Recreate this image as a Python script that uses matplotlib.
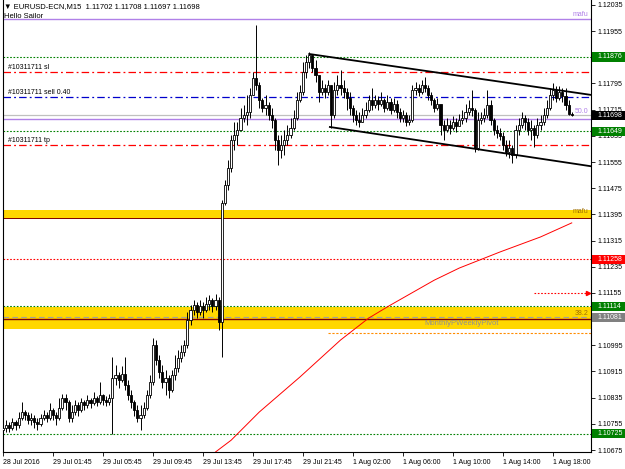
import matplotlib
matplotlib.use('Agg')
import matplotlib.pyplot as plt
import numpy as np
from matplotlib.transforms import blended_transform_factory
from matplotlib.patches import Rectangle

plt.rcParams['font.family'] = ['Liberation Sans', 'DejaVu Sans']

# EURUSD M15 candles, prices in points (1e-5)
first_open = 110736
close_pts = [
    110742, 110751, 110742, 110760, 110751, 110773, 110791, 110782, 110766, 110773,
    110760, 110754, 110773, 110782, 110773, 110797, 110782, 110773, 110803, 110834,
    110821, 110773, 110791, 110812, 110797, 110821, 110812, 110828, 110818, 110834,
    110821, 110843, 110828, 110821, 110834, 110895, 110904, 110889, 110907, 110873,
    110843, 110821, 110797, 110773, 110782, 110803, 110843, 110883,
    110996, 110950, 110913, 110883, 110895, 110858, 110904, 110925, 110956, 110974,
    110996, 111072, 111103, 111118, 111097, 111115, 111103, 111121, 111133, 111115,
    111133, 111066,
    111430, 111485, 111537, 111622, 111637, 111653, 111689, 111699, 111708, 111760,
    111812, 111790, 111744, 111720, 111729, 111699, 111683, 111622, 111592, 111607,
    111622, 111637, 111659, 111689, 111744, 111769, 111830, 111861, 111882, 111842,
    111821, 111769, 111781, 111769, 111790, 111699, 111775, 111790, 111781, 111769,
    111751, 111720, 111699, 111683, 111677, 111699, 111714, 111744, 111729, 111744,
    111732, 111744, 111720, 111738, 111714, 111732, 111708, 111689, 111699, 111677,
    111683, 111775, 111781, 111769, 111790, 111781, 111760, 111744, 111720, 111732,
    111668, 111653, 111668, 111659, 111677, 111665, 111683, 111689, 111708, 111720,
    111714, 111598, 111683, 111689, 111699, 111729, 111683, 111653, 111644, 111634,
    111607, 111585, 111598, 111576, 111653, 111668, 111689, 111677, 111653, 111659,
    111637, 111668, 111677, 111699, 111720, 111760, 111775, 111751, 111769, 111757,
    111729, 111702, 111698]
high_pts = [
    110751, 110766, 110760, 110773, 110766, 110791, 110821, 110797, 110791, 110788,
    110782, 110773, 110785, 110797, 110791, 110818, 110803, 110791, 110834, 110846,
    110846, 110828, 110812, 110828, 110821, 110834, 110828, 110843, 110834, 110852,
    110840, 110883, 110846, 110840, 110846, 110959, 110935, 110913, 110932, 110959,
    110889, 110858, 110828, 110812, 110812, 110821, 110858, 110904,
    111017, 111011, 110965, 110935, 110919, 110904, 110919, 110965, 110980, 110996,
    111011, 111097, 111118, 111133, 111127, 111133, 111127, 111142, 111148, 111139,
    111152, 111142,
    111439, 111500, 111561, 111637, 111677, 111677, 111720, 111729, 111760, 111781,
    111830, 111974, 111799, 111751, 111760, 111738, 111720, 111689, 111637, 111637,
    111653, 111668, 111689, 111714, 111769, 111790, 111861, 111882, 111891, 111882,
    111867, 111812, 111806, 111793, 111806, 111760, 111799, 111821, 111836, 111806,
    111781, 111769, 111729, 111714, 111708, 111720, 111738, 111760, 111781, 111760,
    111757, 111769, 111751, 111760, 111751, 111751, 111744, 111720, 111714, 111708,
    111699, 111790, 111799, 111793, 111806, 111815, 111790, 111769, 111751, 111751,
    111729, 111683, 111689, 111683, 111696, 111689, 111702, 111714, 111732, 111744,
    111775, 111720, 111708, 111708, 111720, 111775, 111744, 111689, 111668, 111659,
    111647, 111622, 111622, 111607, 111668, 111689, 111708, 111699, 111689, 111683,
    111668, 111689, 111699, 111720, 111744, 111781, 111796, 111787, 111787, 111781,
    111781, 111744, 111708]
low_pts = [
    110705, 110730, 110730, 110736, 110736, 110742, 110766, 110766, 110754, 110751,
    110742, 110736, 110748, 110766, 110760, 110766, 110766, 110751, 110766, 110797,
    110797, 110760, 110760, 110782, 110779, 110791, 110797, 110803, 110803, 110812,
    110809, 110815, 110812, 110809, 110812, 110724, 110873, 110864, 110883, 110858,
    110828, 110803, 110779, 110760, 110736, 110773, 110797, 110834,
    110873, 110935, 110895, 110864, 110843, 110834, 110852, 110889, 110913, 110944,
    110962, 110987, 111057, 111087, 111078, 111087, 111078, 111097, 111103, 111097,
    111103, 111042,
    110959, 111424, 111469, 111524, 111592, 111607, 111653, 111677, 111668, 111689,
    111760, 111775, 111720, 111708, 111699, 111683, 111659, 111592, 111546, 111567,
    111576, 111607, 111628, 111653, 111683, 111738, 111760, 111812, 111842, 111830,
    111799, 111738, 111760, 111751, 111760, 111659, 111689, 111760, 111760, 111751,
    111714, 111699, 111677, 111668, 111662, 111677, 111689, 111708, 111714, 111720,
    111714, 111726, 111708, 111714, 111702, 111708, 111689, 111677, 111677, 111665,
    111668, 111677, 111760, 111757, 111763, 111769, 111744, 111729, 111708, 111714,
    111637, 111622, 111647, 111640, 111653, 111647, 111665, 111671, 111677, 111699,
    111696, 111585, 111592, 111671, 111677, 111689, 111668, 111637, 111628, 111622,
    111592, 111573, 111567, 111552, 111567, 111637, 111659, 111653, 111637, 111622,
    111601, 111628, 111653, 111668, 111689, 111714, 111744, 111738, 111744, 111738,
    111714, 111699, 111697]

# moving average (read at a few bars)
ma_bars = [66, 68, 73, 82, 95, 108, 117, 124, 138, 146, 159, 172, 182]
ma_pts = [110640, 110669, 110705, 110791, 110898, 111011, 111078, 111118,
          111194, 111231, 111280, 111326, 111369]

# channel trendlines (bar, price)
upper_chan = ([98, 188.2], [1.11885, 1.11760])
lower_chan = ([104.6, 188.2], [1.11662, 1.11542])

# levels
mafu_top = 1.11992
sl_price = 1.11830
entry_price = 1.11753
bid_price = 1.11698
fib50_price = 1.11685
tp_price = 1.11606
green_levels = [1.11876, 1.11649, 1.11114, 1.10725]
red_level = 1.11258
arrow_level = 1.11155
arrow_start = 170
upper_zone = (1.11381, 1.11408)
lower_zone = (1.11044, 1.11113)
fib382 = 1.11081
pivot_line = 1.11076
orange_level = 1.11034
orange_start = 104

y_ticks = [1.10675, 1.10755, 1.10835, 1.10915, 1.10995, 1.11075, 1.11155, 1.11235,
           1.11315, 1.11395, 1.11475, 1.11555, 1.11635, 1.11715, 1.11795, 1.11875,
           1.11955, 1.12035]
hidden_ticks = [1.11075, 1.11875]   # covered by price boxes
x_tick_bars = [0, 16, 32, 48, 64, 80, 96, 112, 128, 144, 160, 176]
x_tick_labels = ['28 Jul 2016', '29 Jul 01:45', '29 Jul 05:45', '29 Jul 09:45',
                 '29 Jul 13:45', '29 Jul 17:45', '29 Jul 21:45', '1 Aug 02:00',
                 '1 Aug 06:00', '1 Aug 10:00', '1 Aug 14:00', '1 Aug 18:00']

c = np.array(close_pts) / 1e5
h = np.array(high_pts) / 1e5
l = np.array(low_pts) / 1e5
o = np.r_[first_open / 1e5, c[:-1]]
x = np.arange(len(c))

fig = plt.figure(figsize=(6.25, 4.69), dpi=100)
ax = fig.add_axes([3/625, 17/469, 588/625, 452/469])
ax.set_xlim(0, 188.16)
ax.set_ylim(1.10669, 1.12050)

# zones
ax.axhspan(*upper_zone, color='#ffd700', lw=0, zorder=1)
ax.axhspan(*lower_zone, color='#ffd700', lw=0, zorder=1)
ax.axhline(upper_zone[0] + 0.00002, color='#800000', lw=0.7, zorder=2)
ax.axhline(pivot_line, color='#800000', lw=1.0, zorder=2)
ax.axhline(fib382, color='#a0a0a0', lw=0.8, dashes=(5, 3), zorder=2)

# horizontal lines
ax.axhline(mafu_top, color='#b080e8', lw=1.0, zorder=2)
for g in green_levels:
    ax.axhline(g, color='#008000', lw=0.8, dashes=(1.5, 1.5), zorder=2)
ax.axhline(sl_price, color='red', lw=0.9, dashes=(6, 2.5, 1.5, 2.5), zorder=2)
ax.axhline(tp_price, color='red', lw=0.9, dashes=(6, 2.5, 1.5, 2.5), zorder=2)
ax.axhline(entry_price, color='#0000cc', lw=0.9, dashes=(6, 2.5, 1.5, 2.5), zorder=2)
ax.axhline(bid_price, color='#c0c0c0', lw=0.9, zorder=2)
ax.axhline(fib50_price, color='#b080e8', lw=1.0, zorder=2)
ax.axhline(red_level, color='red', lw=0.8, dashes=(1.5, 1.5), zorder=2)
ax.plot([arrow_start, 187.6], [arrow_level, arrow_level], color='red', lw=0.8,
        dashes=(1.5, 1.5), zorder=2)
ax.plot([187.2], [arrow_level], marker='>', ms=3, color='red', zorder=2)
ax.plot([orange_start, 188.2], [orange_level, orange_level], color='#ff8c00', lw=0.8,
        dashes=(2, 1.5), zorder=2)

# moving average
ax.plot(ma_bars, np.array(ma_pts) / 1e5, color='red', lw=0.7, zorder=3)

# candles
up = c >= o
ax.vlines(x, l, h, color='black', lw=0.7, zorder=5)
bottom = np.minimum(o, c)
height = np.maximum(np.abs(c - o), 0.000006)
ax.bar(x[up], height[up], bottom=bottom[up], width=0.7, facecolor='white',
       edgecolor='black', lw=0.6, zorder=6)
ax.bar(x[~up], height[~up], bottom=bottom[~up], width=0.7, facecolor='black',
       edgecolor='black', lw=0.6, zorder=6)

# channel
ax.plot(*upper_chan, color='black', lw=1.3, zorder=7)
ax.plot(*lower_chan, color='black', lw=1.3, zorder=7)

# texts on chart
ta = blended_transform_factory(ax.transAxes, ax.transData)
lab_kw = dict(transform=ta, fontsize=5, color='black', va='bottom', zorder=8)
ax.text(0.0085, sl_price + 0.00003, '#10311711 sl', **lab_kw)
ax.text(0.0085, entry_price + 0.00003, '#10311711 sell 0.40', **lab_kw)
ax.text(0.0085, tp_price + 0.00003, '#10311711 tp', **lab_kw)
ax.text(0.996, mafu_top + 0.00003, 'mafu', transform=ta, fontsize=5, color='#b080e8',
        ha='right', va='bottom', zorder=8)
ax.text(0.996, upper_zone[1] - 0.00003, 'mafu', transform=ta, fontsize=5,
        color='#a07000', ha='right', va='center', zorder=8)
ax.text(0.996, bid_price + 0.00001, '50.0', transform=ta, fontsize=5, color='#b080e8',
        ha='right', va='bottom', zorder=8)
ax.text(0.996, fib382 + 0.00001, '38.2', transform=ta, fontsize=5, color='#a07000',
        ha='right', va='bottom', zorder=8)
ax.text(146.9, 1.11063, 'MonthlyPWeeklyPivot', fontsize=5.5, color='#909090',
        ha='center', va='center', zorder=8)

fig.text(4/625, 1 - 7/469, '\u25bc EURUSD-ECN,M15  1.11702 1.11708 1.11697 1.11698',
         fontsize=5.5, va='center', ha='left', zorder=1)
fig.text(4/625, 1 - 17/469, 'Hello Sailor', fontsize=5.5, va='center', ha='left', zorder=1)

# axes style
ax.spines['top'].set_visible(False)
for s in ['left', 'right', 'bottom']:
    ax.spines[s].set_linewidth(0.8)
ax.yaxis.tick_right()
ax.set_yticks(y_ticks)
ax.set_yticklabels(['' if v in hidden_ticks else '%.5f' % v for v in y_ticks])
ax.tick_params(axis='y', direction='out', length=3, width=0.6, labelsize=5, pad=2)
ax.set_xticks(x_tick_bars)
ax.set_xticklabels(x_tick_labels)
ax.tick_params(axis='x', direction='out', length=3, width=0.6, labelsize=5, pad=2)
for t in ax.get_xticklabels():
    t.set_ha('left')

# price boxes on the right scale
boxes = [(1.11876, '#008000'), (bid_price, 'black'), (1.11649, '#008000'),
         (red_level, '#ff0000'), (1.11114, '#008000'), (fib382, '#808080'),
         (1.10725, '#008000')]
for p, col in boxes:
    ax.add_patch(Rectangle((1 + 1/588, p - 0.00014), 34/588, 0.00028, transform=ta,
                           facecolor=col, edgecolor='none', clip_on=False, zorder=20))
    ax.text(1 + 6/588, p, '%.5f' % p, transform=ta, fontsize=5, color='white',
            va='center', ha='left', clip_on=False, zorder=21)

fig.savefig('out.png', dpi=100)
